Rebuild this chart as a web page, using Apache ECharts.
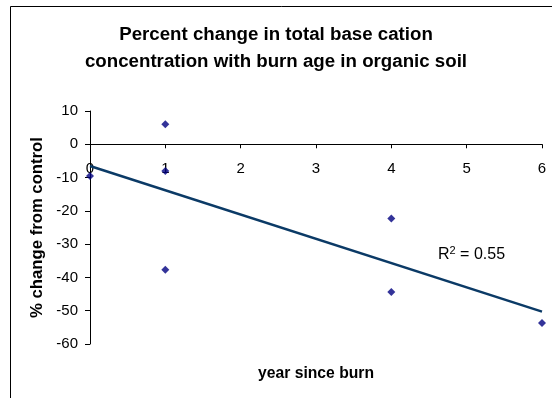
<!DOCTYPE html>
<html>
<head>
<meta charset="utf-8">
<script src="https://cdn.jsdelivr.net/npm/echarts@6/dist/echarts.min.js"></script>
<style>
  html, body { margin: 0; padding: 0; background: #fff; }
  #chart { width: 552px; height: 398px; }
</style>
</head>
<body>
<div id="chart"></div>
<script>
// Years since burn and percent change in total base cations (organic soil)
const years = [0, 1, 1, 1, 4, 4, 6];
const pctChange = [-9.5, 6, -8, -37.7, -22.3, -44.4, -53.7];

const xTicks = [0, 1, 2, 3, 4, 5, 6];
const yTicks = [-60, -50, -40, -30, -20, -10, 0, 10];

// Ordinary least-squares linear fit
function linearFit(xs, ys) {
  const n = xs.length;
  const mx = xs.reduce((a, b) => a + b, 0) / n;
  const my = ys.reduce((a, b) => a + b, 0) / n;
  let sxx = 0, sxy = 0, syy = 0;
  for (let i = 0; i < n; i++) {
    sxx += (xs[i] - mx) * (xs[i] - mx);
    sxy += (xs[i] - mx) * (ys[i] - my);
    syy += (ys[i] - my) * (ys[i] - my);
  }
  const slope = sxy / sxx;
  return { slope, intercept: my - slope * mx, r2: (sxy * sxy) / (sxx * syy) };
}

const fit = linearFit(years, pctChange);
const xMin = xTicks[0], xMax = xTicks[xTicks.length - 1];
const yMin = yTicks[0], yMax = yTicks[yTicks.length - 1];
const trend = [
  [xMin, fit.intercept + fit.slope * xMin],
  [xMax, fit.intercept + fit.slope * xMax]
];

const chart = echarts.init(document.getElementById('chart'), null, { renderer: 'canvas' });
const font = 'Arial, "Liberation Sans", sans-serif';

chart.setOption({
  animation: false,
  backgroundColor: '#fff',
  title: {
    text: 'Percent change in total base cation\nconcentration with burn age in organic soil',
    left: 271,
    top: 16,
    textAlign: 'center',
    textStyle: { fontFamily: font, fontSize: 18.7, fontWeight: 'bold', color: '#000', lineHeight: 27 }
  },
  graphic: [{
    type: 'rect',
    shape: { x: 10.5, y: 6.5, width: 700, height: 600 },
    style: { fill: 'none', stroke: '#000', lineWidth: 1 },
    z: 100
  }, {
    type: 'text',
    left: 438,
    top: 245,
    style: {
      text: '{r|R}{s|2}{r| = ' + fit.r2.toFixed(2) + '}',
      rich: {
        r: { fontFamily: font, fontSize: 16, color: '#000', verticalAlign: 'bottom' },
        s: { fontFamily: font, fontSize: 11, color: '#000', verticalAlign: 'top', padding: [0, 0, 7, 0] }
      }
    }
  }],
  grid: { left: 90, right: 10, top: 111, bottom: 54, containLabel: false },
  xAxis: [{
    // axis crossing the y scale at zero, carrying ticks and labels
    type: 'value',
    min: xMin,
    max: xMax,
    interval: 1,
    axisLine: { onZero: false, lineStyle: { color: '#000', width: 1 } },
    axisTick: { show: true, inside: false, length: 4, lineStyle: { color: '#000' } },
    axisLabel: { margin: 17, fontFamily: font, fontSize: 15, color: '#000', formatter: v => String(v) },
    splitLine: { show: false }
  }, {
    // bottom axis only holds the title
    type: 'value',
    position: 'bottom',
    min: xMin,
    max: xMax,
    interval: 1,
    name: 'year since burn',
    nameLocation: 'middle',
    nameGap: 22,
    nameTextStyle: { fontFamily: font, fontSize: 15.7, fontWeight: 'bold', color: '#000' },
    axisLine: { show: false, onZero: false },
    axisTick: { show: false },
    axisLabel: { show: false },
    splitLine: { show: false }
  }],
  yAxis: {
    type: 'value',
    min: yMin,
    max: yMax,
    interval: 10,
    name: '% change from control',
    nameLocation: 'middle',
    nameGap: 40,
    nameRotate: 90,
    nameTextStyle: { fontFamily: font, fontSize: 16.7, fontWeight: 'bold', color: '#000' },
    axisLine: { show: true, onZero: false, lineStyle: { color: '#000', width: 1 } },
    axisTick: { show: true, inside: false, length: 5, lineStyle: { color: '#000' } },
    axisLabel: { margin: 12, fontFamily: font, fontSize: 15, color: '#000' },
    splitLine: { show: false }
  },
  series: [{
    type: 'line',
    xAxisIndex: 0,
    data: trend,
    symbol: 'none',
    lineStyle: { color: '#0b3a66', width: 2.5 },
    silent: true,
    z: 2
  }, {
    type: 'scatter',
    xAxisIndex: 0,
    data: years.map((x, i) => [x, pctChange[i]]),
    symbol: 'diamond',
    symbolSize: 8,
    itemStyle: { color: '#000080' },
    z: 3
  }]
});

// Lift the labelled x axis up to where the y scale crosses zero
const zeroY = chart.convertToPixel({ yAxisIndex: 0 }, 0);
const baseY = chart.convertToPixel({ yAxisIndex: 0 }, yMin);
chart.setOption({ xAxis: [{ offset: zeroY - baseY }, {}] });
</script>
</body>
</html>
